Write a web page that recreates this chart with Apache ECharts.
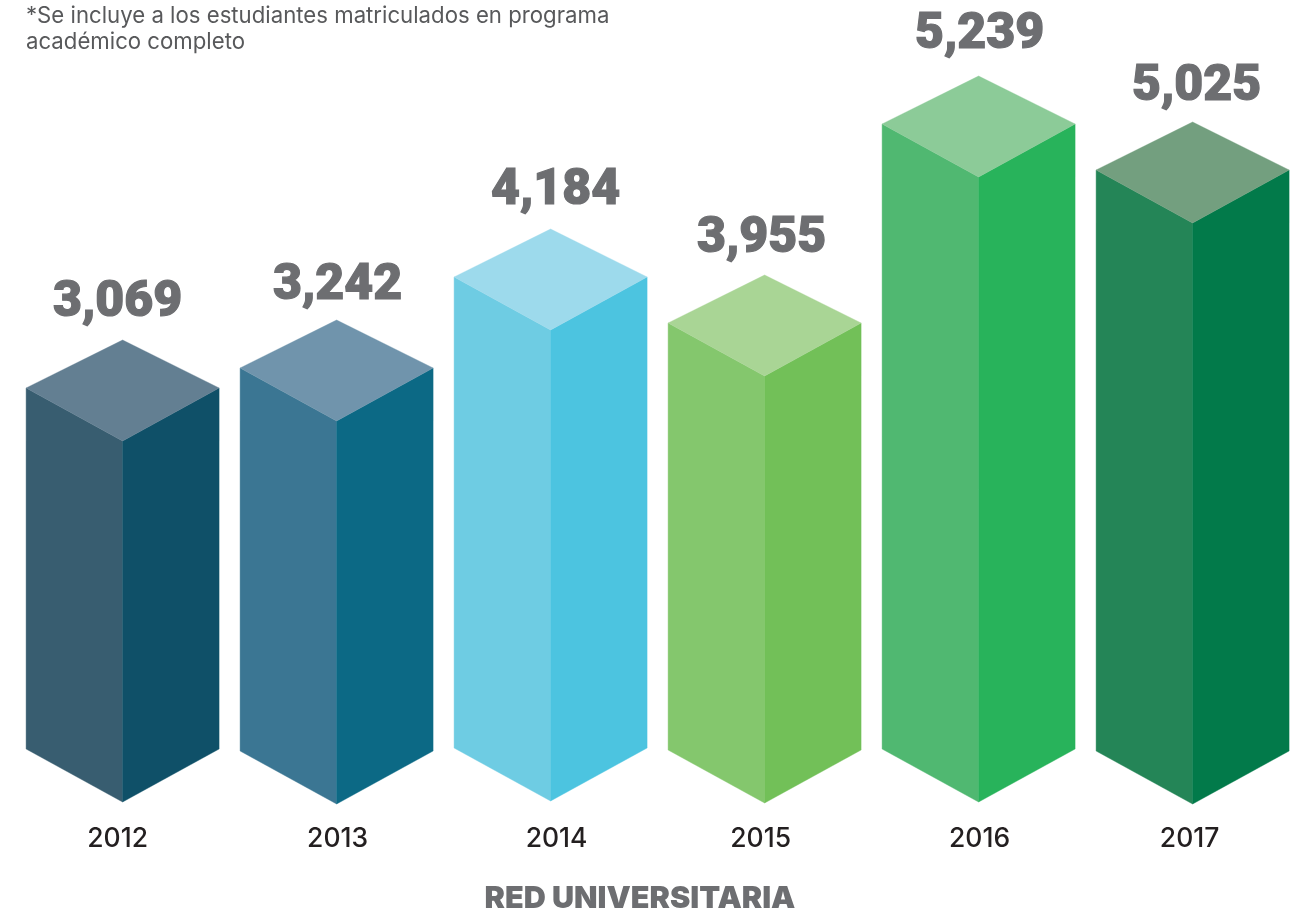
<!DOCTYPE html>
<html>
<head>
<meta charset="utf-8">
<style>html,body{margin:0;padding:0;background:#fff}#c{width:1308px;height:909px}</style>
<script src="https://cdn.jsdelivr.net/npm/echarts@6/dist/echarts.min.js"></script>
</head>
<body>
<div id="c"></div>
<script>
// Category labels and the numbers printed above each bar.
const years = ['2012', '2013', '2014', '2015', '2016', '2017'];
const printedValues = [3069, 3242, 4184, 3955, 5239, 5025];
// The reference's bars are not proportional to the printed numbers, so the
// drawn heights are read separately from the picture (front top vertex and
// front bottom vertex, in axis units above the baseline).
const drawnTop = [363, 383, 474, 428, 627, 581];
const drawnBottom = [2, 0, 3, 1, 2, 0];

const leftFace = ['#385d70', '#3b7693', '#6ecce3', '#84c76d', '#50b871', '#248557'];
const rightFace = ['#0f5068', '#0c6985', '#4cc4e0', '#72c058', '#28b35b', '#027a4a'];
const topFace = ['#637f92', '#7094ac', '#9ddaec', '#a9d595', '#8ccb98', '#739f7f'];
const labelGap = [37, 34, 38, 36, 41, 35];
const labelNudge = [-5, 1, 5, -3, 1, 4];
const yearNudge = [-5, 1, 6, -4, 1, -3];

const HALF_W = 96.5, RISE_FRONT = 53, RISE_BACK = 48;
const textFont = 'Inter, "Open Sans", sans-serif';
const numberFont = 'Roboto, Inter, sans-serif';

function renderBar(params, api) {
  const i = api.value(0);
  const top = api.coord([i, api.value(1)]);
  const bottom = api.coord([i, api.value(2)]);
  const cx = top[0], ft = top[1], fb = bottom[1];
  const sideTop = ft - RISE_FRONT, sideBot = fb - RISE_FRONT, apex = sideTop - RISE_BACK;
  const face = (pts, fill) => ({
    type: 'polygon', shape: { points: pts },
    style: { fill: fill, stroke: fill, lineWidth: 0.4 }
  });
  return {
    type: 'group',
    children: [
      face([[cx - HALF_W, sideTop], [cx, ft], [cx, fb], [cx - HALF_W, sideBot]], leftFace[i]),
      face([[cx, ft], [cx + HALF_W, sideTop], [cx + HALF_W, sideBot], [cx, fb]], rightFace[i]),
      face([[cx, apex], [cx + HALF_W, sideTop], [cx, ft], [cx - HALF_W, sideTop]], topFace[i]),
      {
        type: 'text',
        style: {
          x: cx + labelNudge[i], y: apex - labelGap[i],
          text: api.value(3).toLocaleString('en-US'),
          fill: '#6d6e71', stroke: '#6d6e71', lineWidth: 1.2,
          font: '900 50px ' + numberFont,
          align: 'center', verticalAlign: 'middle'
        }
      }
    ]
  };
}

const rich = {};
yearNudge.forEach((n, i) => {
  rich['n' + i] = {
    fontFamily: textFont, fontSize: 26.5, fontWeight: 500, color: '#231f20',
    padding: n < 0 ? [0, -2 * n, 0, 0] : [0, 0, 0, 2 * n]
  };
});

const chart = echarts.init(document.getElementById('c'), null, { renderer: 'canvas' });
chart.setOption({
  animation: false,
  backgroundColor: '#fff',
  title: [
    {
      text: '*Se incluye a los estudiantes matriculados en programa\nacadémico completo',
      left: 26, top: 3, padding: 0,
      textStyle: { fontFamily: textFont, fontSize: 22.2, fontWeight: 400, color: '#58595b', lineHeight: 26 }
    },
    {
      text: 'RED UNIVERSITARIA',
      left: 640, top: 882, padding: 0, textAlign: 'center',
      textStyle: { fontFamily: textFont, fontSize: 30.6, fontWeight: 900, color: '#6d6e71', lineHeight: 34 }
    }
  ],
  grid: { left: 15.6, width: 1284, top: 0, height: 804 },
  xAxis: {
    type: 'category', data: years,
    axisLine: { show: false }, axisTick: { show: false },
    axisLabel: {
      margin: 22,
      formatter: (v, i) => `{n${i}|${v}}`,
      rich: rich
    }
  },
  yAxis: { type: 'value', min: 0, max: 804, show: false, splitLine: { show: false } },
  series: [{
    type: 'custom',
    clip: false,
    renderItem: renderBar,
    encode: { x: 0, y: [1, 2] },
    data: years.map((_, i) => [i, drawnTop[i], drawnBottom[i], printedValues[i]])
  }]
});
</script>
</body>
</html>
